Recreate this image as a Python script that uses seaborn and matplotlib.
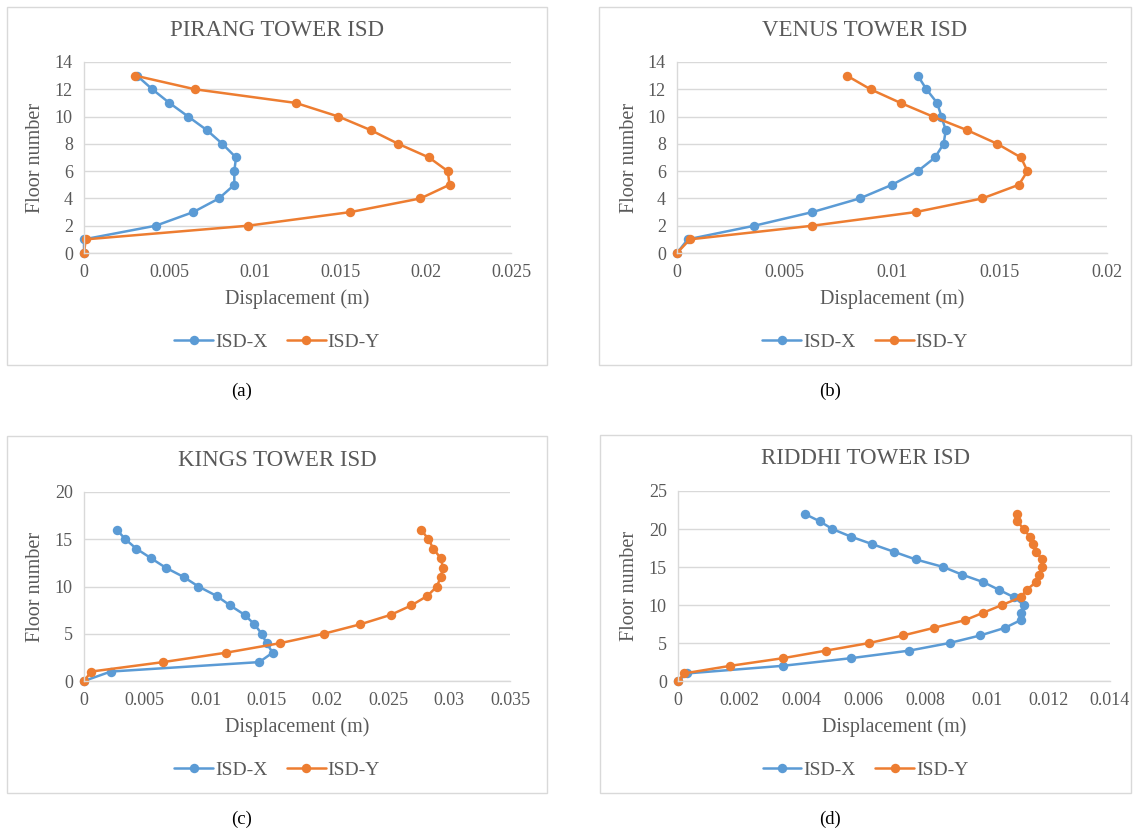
import matplotlib
matplotlib.use("Agg")
import matplotlib.pyplot as plt
import seaborn as sns
import pandas as pd
from matplotlib.patches import Rectangle
from matplotlib.lines import Line2D
from matplotlib.ticker import FuncFormatter, MultipleLocator

# ---- data ----
pirang_floor = list(range(14))
pirang_x = [0, 0, 0.0042, 0.0064, 0.0079, 0.0088, 0.0088, 0.0089, 0.0081, 0.0072,
            0.0061, 0.0050, 0.0040, 0.0031]
pirang_y = [0, 0.0001, 0.0096, 0.0156, 0.0197, 0.0214, 0.0213, 0.0202, 0.0184, 0.0168,
            0.0149, 0.0124, 0.0065, 0.0030]

venus_floor = list(range(14))
venus_x = [0, 0.0005, 0.0036, 0.0063, 0.0085, 0.0100, 0.0112, 0.0120, 0.0124, 0.0125,
           0.0123, 0.0121, 0.0116, 0.0112]
venus_y = [0, 0.0006, 0.0063, 0.0111, 0.0142, 0.0159, 0.0163, 0.0160, 0.0149, 0.0135,
           0.0119, 0.0104, 0.0090, 0.0079]

kings_floor = list(range(17))
kings_x = [0, 0.0022, 0.0144, 0.0155, 0.0150, 0.0146, 0.0140, 0.0132, 0.0120, 0.0109,
           0.0094, 0.0082, 0.0067, 0.0055, 0.0043, 0.0034, 0.0027]
kings_y = [0, 0.0006, 0.0065, 0.0117, 0.0161, 0.0197, 0.0227, 0.0252, 0.0269, 0.0282,
           0.0290, 0.0293, 0.0295, 0.0293, 0.0287, 0.0283, 0.0277]

riddhi_floor = list(range(23))
riddhi_x = [0, 0.0003, 0.0034, 0.0056, 0.0075, 0.0088, 0.0098, 0.0106, 0.0111, 0.0111,
            0.0112, 0.0109, 0.0104, 0.0099, 0.0092, 0.0086, 0.0077, 0.0070, 0.0063,
            0.0056, 0.0050, 0.0046, 0.0041]
riddhi_y = [0, 0.0002, 0.0017, 0.0034, 0.0048, 0.0062, 0.0073, 0.0083, 0.0093, 0.0099,
            0.0105, 0.0111, 0.0113, 0.0116, 0.0117, 0.0118, 0.0118, 0.0116, 0.0115,
            0.0114, 0.0112, 0.0110, 0.0110]

titles = ["PIRANG TOWER ISD", "VENUS TOWER ISD", "KINGS TOWER ISD", "RIDDHI TOWER ISD"]
captions = ["(a)", "(b)", "(c)", "(d)"]
xmax = [0.025, 0.02, 0.035, 0.014]
xstep = [0.005, 0.005, 0.005, 0.002]
ymax = [14, 14, 20, 25]
ystep = [2, 2, 5, 5]

panels = [
    (pirang_floor, pirang_x, pirang_y),
    (venus_floor, venus_x, venus_y),
    (kings_floor, kings_x, kings_y),
    (riddhi_floor, riddhi_x, riddhi_y),
]

BLUE = "#5B9BD5"
ORANGE = "#ED7D31"
GREY_TXT = "#595959"
GRID = "#D9D9D9"

sns.set_style("white")
plt.rcParams["font.family"] = ["Liberation Serif", "DejaVu Serif"]

W, H = 1134, 836
fig = plt.figure(figsize=(W / 100, H / 100), dpi=100)

# pixel layout: chart box, plot area
boxes = [(7, 7, 547, 365), (599, 7, 1131, 365), (7, 436, 547, 793), (600, 435, 1131, 793)]
plots = [(84, 62, 511, 253), (677, 62, 1107, 253), (84, 492, 510, 681), (678, 491, 1110, 681)]

def fx(px):
    return px / W

def fy(py):
    return 1 - py / H

for i, (floor, dx, dy) in enumerate(panels):
    bx0, by0, bx1, by1 = boxes[i]
    fig.patches.append(Rectangle((fx(bx0), fy(by1)), fx(bx1 - bx0), (by1 - by0) / H,
                                 transform=fig.transFigure, fill=False,
                                 edgecolor=GRID, linewidth=1))
    px0, py0, px1, py1 = plots[i]
    ax = fig.add_axes([fx(px0), fy(py1), fx(px1 - px0), (py1 - py0) / H])

    df = pd.DataFrame({
        "Floor": floor * 2,
        "Disp": dx + dy,
        "Series": ["ISD-X"] * len(floor) + ["ISD-Y"] * len(floor),
    })
    sns.lineplot(data=df, x="Disp", y="Floor", hue="Series", orient="y",
                 estimator=None, sort=False, palette=[BLUE, ORANGE],
                 marker="o", markersize=6.8, markeredgewidth=0, linewidth=1.8,
                 legend=False, ax=ax)
    for ln in ax.get_lines():
        ln.set_clip_on(False)

    ax.set_xlim(0, xmax[i])
    ax.set_ylim(0, ymax[i])
    ax.xaxis.set_major_locator(MultipleLocator(xstep[i]))
    ax.yaxis.set_major_locator(MultipleLocator(ystep[i]))
    ax.xaxis.set_major_formatter(FuncFormatter(lambda v, p: f"{round(v, 6):g}"))
    ax.yaxis.set_major_formatter(FuncFormatter(lambda v, p: f"{int(round(v))}"))
    ax.grid(axis="y", color=GRID, linewidth=1)
    ax.set_axisbelow(True)
    for s in ["top", "right"]:
        ax.spines[s].set_visible(False)
    for s in ["left", "bottom"]:
        ax.spines[s].set_color(GRID)
        ax.spines[s].set_linewidth(1)
    ax.tick_params(length=0, labelsize=13, labelcolor=GREY_TXT)
    ax.tick_params(axis="x", pad=8)
    ax.tick_params(axis="y", pad=8)

    h = py1 - py0
    w = px1 - px0
    ax.set_xlabel("Displacement (m)", fontsize=14.5, color=GREY_TXT, va="center")
    ax.xaxis.set_label_coords(0.5, -46 / h)
    ax.set_ylabel("Floor number", fontsize=14.5, color=GREY_TXT, va="center")
    ax.yaxis.set_label_coords(-48 / w, 0.5)

    cx = (bx0 + bx1) / 2
    fig.text(fx(cx), fy(by0 + 24), titles[i], ha="center", va="center",
             fontsize=16.5, color=GREY_TXT)

    handles = [Line2D([], [], color=BLUE, marker="o", markersize=6.8, markeredgewidth=0, linewidth=1.8),
               Line2D([], [], color=ORANGE, marker="o", markersize=6.8, markeredgewidth=0, linewidth=1.8)]
    fig.legend(handles, ["ISD-X", "ISD-Y"], loc="center",
               bbox_to_anchor=(fx(cx), fy(by1 - 23)), ncol=2, frameon=False,
               fontsize=14, labelcolor=GREY_TXT, handlelength=2.0,
               handletextpad=0.1, columnspacing=1.0)

    fig.text(fx(cx - 35), fy(by1 + 26), captions[i], ha="center", va="center",
             fontsize=13.5, color="black")

fig.savefig("out.png", dpi=100, facecolor="white")
